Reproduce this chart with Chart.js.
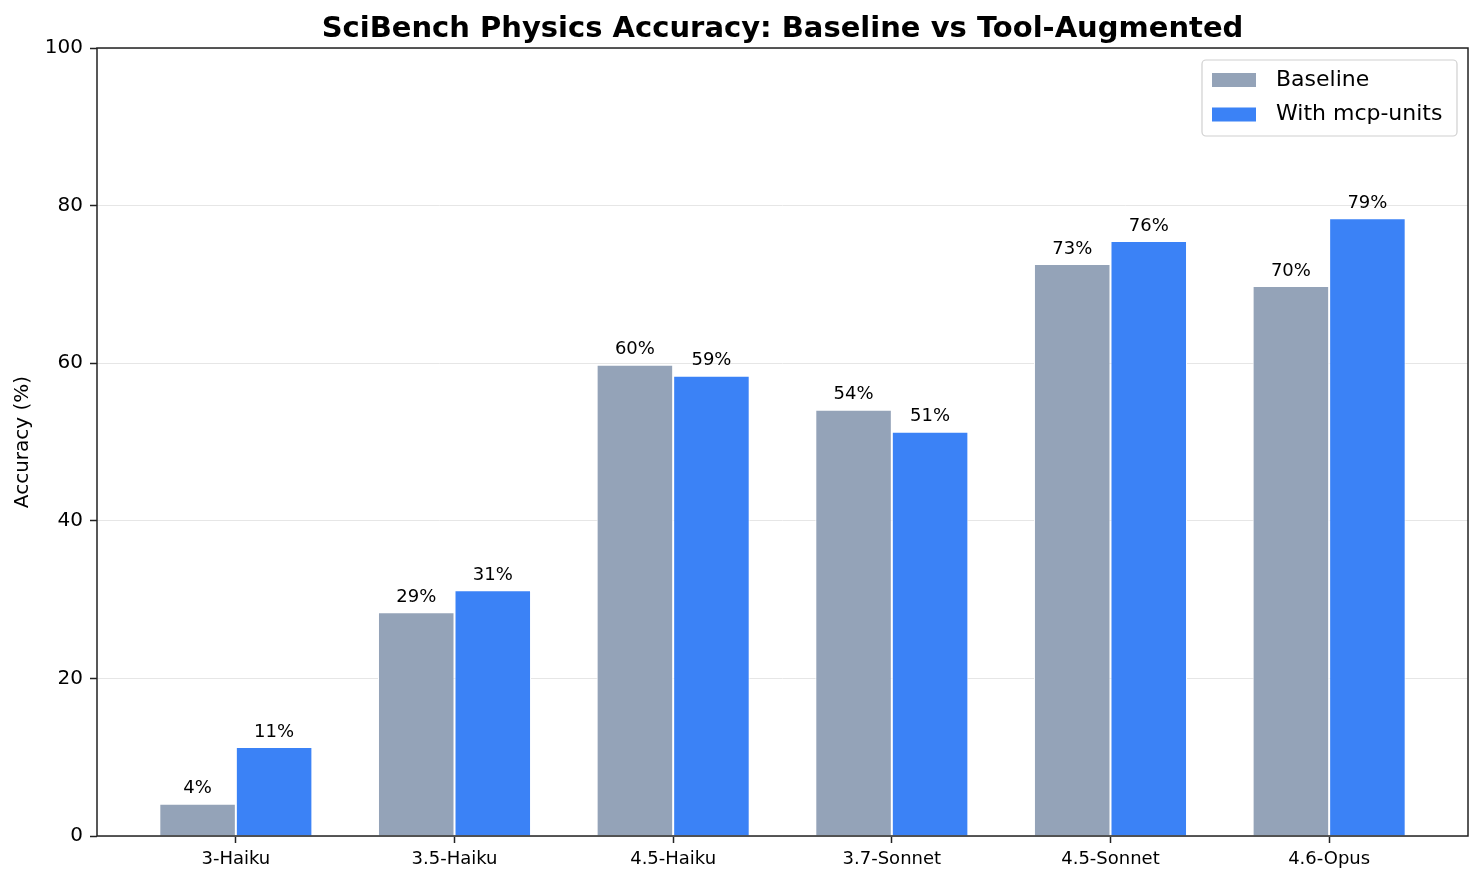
<!DOCTYPE html>
<html>
<head>
<meta charset="utf-8">
<script src="https://cdn.jsdelivr.net/npm/chart.js@4/dist/chart.umd.min.js"></script>
<style>
  html, body { margin: 0; padding: 0; background: #fff; }
  #wrap { width: 1483px; height: 885px; }
</style>
</head>
<body>
<div id="wrap"><canvas id="chart" width="1483" height="885"></canvas></div>
<script>
// values
const models = ['3-Haiku', '3.5-Haiku', '4.5-Haiku', '3.7-Sonnet', '4.5-Sonnet', '4.6-Opus'];
const baseline = [4.1, 28.4, 59.8, 54.1, 72.6, 69.8];
const withTool = [11.3, 31.2, 58.4, 51.3, 75.5, 78.4];
const baselineLabels = ['4%', '29%', '60%', '54%', '73%', '70%'];
const withToolLabels = ['11%', '31%', '59%', '51%', '76%', '79%'];
const yTicks = [0, 20, 40, 60, 80, 100];
const chartTitle = 'SciBench Physics Accuracy: Baseline vs Tool-Augmented';

const FONT = "'DejaVu Sans', sans-serif";
const GRAY = '#94A3B8';
const BLUE = '#3B82F6';

// value labels over every bar
const barLabels = {
    id: 'barLabels',
    afterDatasetsDraw(chart) {
        const ctx = chart.ctx;
        const texts = [baselineLabels, withToolLabels];
        ctx.save();
        ctx.font = '18px ' + FONT;
        ctx.fillStyle = '#000';
        ctx.textAlign = 'center';
        ctx.textBaseline = 'bottom';
        chart.data.datasets.forEach((ds, i) => {
            chart.getDatasetMeta(i).data.forEach((bar, j) => {
                ctx.fillText(texts[i][j], bar.x, bar.y - 6);
            });
        });
        ctx.restore();
    }
};

// title centred over the plot, full box around it, legend in the top right corner
const frameAndLegend = {
    id: 'frameAndLegend',
    afterDraw(chart) {
        const ctx = chart.ctx;
        const a = chart.chartArea;
        ctx.save();

        ctx.font = 'bold 29px ' + FONT;
        ctx.fillStyle = '#000';
        ctx.textAlign = 'center';
        ctx.textBaseline = 'alphabetic';
        ctx.fillText(chartTitle, (a.left + a.right) / 2, 37);

        ctx.strokeStyle = '#222';
        ctx.lineWidth = 1.5;
        ctx.strokeRect(a.left, a.top, a.right - a.left, a.bottom - a.top);

        // legend box
        const w = 255, h = 76;
        const x = a.right - 11 - w, y = a.top + 12;
        ctx.beginPath();
        ctx.roundRect(x, y, w, h, 4);
        ctx.fillStyle = 'rgba(255,255,255,0.8)';
        ctx.fill();
        ctx.strokeStyle = '#d0d0d0';
        ctx.lineWidth = 1.2;
        ctx.stroke();

        ctx.font = '22px ' + FONT;
        ctx.textAlign = 'left';
        ctx.textBaseline = 'middle';
        chart.data.datasets.forEach((ds, i) => {
            const cy = y + 20 + i * 34.5;
            ctx.fillStyle = ds.backgroundColor;
            ctx.fillRect(x + 10, cy - 7, 44, 14);
            ctx.fillStyle = '#000';
            ctx.fillText(ds.label, x + 74, cy);
        });
        ctx.restore();
    }
};

new Chart(document.getElementById('chart'), {
    type: 'bar',
    data: {
        datasets: [
            {
                label: 'Baseline',
                data: baseline.map((v, i) => ({ x: i, y: v })),
                backgroundColor: GRAY,
                borderColor: '#fff',
                borderWidth: 1,
            },
            {
                label: 'With mcp-units',
                data: withTool.map((v, i) => ({ x: i, y: v })),
                backgroundColor: BLUE,
                borderColor: '#fff',
                borderWidth: 1,
            }
        ]
    },
    options: {
        responsive: false,
        animation: false,
        categoryPercentage: 0.7,
        barPercentage: 1.0,
        layout: { padding: { left: 0, right: 15, top: 48, bottom: 0 } },
        scales: {
            x: {
                type: 'linear',
                min: -0.635,
                max: 5.635,
                offset: false,
                afterBuildTicks: (scale) => {
                    scale.ticks = models.map((m, i) => ({ value: i }));
                },
                afterFit: (scale) => { scale.height = 49; },
                ticks: {
                    callback: (v) => models[v],
                    color: '#000',
                    font: { family: FONT, size: 18 },
                    padding: 6,
                    maxRotation: 0,
                    autoSkip: false,
                },
                grid: {
                    offset: false,
                    drawOnChartArea: false,
                    drawTicks: true,
                    tickLength: 7,
                    tickColor: '#222',
                    tickWidth: 1.5,
                },
                border: { display: false },
            },
            y: {
                min: 0,
                max: 100,
                afterBuildTicks: (scale) => {
                    scale.ticks = yTicks.map(v => ({ value: v }));
                },
                afterFit: (scale) => { scale.width = 97; },
                ticks: {
                    color: '#000',
                    font: { family: FONT, size: 20 },
                    padding: 7,
                },
                grid: {
                    color: '#e6e6e6',
                    lineWidth: 1,
                    tickLength: 7,
                    tickColor: '#222',
                    tickWidth: 1.5,
                },
                border: { display: false },
                title: {
                    display: true,
                    text: 'Accuracy (%)',
                    color: '#000',
                    font: { family: FONT, size: 20 },
                    padding: { top: 11, bottom: 0 },
                },
            }
        },
        plugins: {
            legend: { display: false },
            tooltip: { enabled: false },
            title: { display: false }
        }
    },
    plugins: [barLabels, frameAndLegend]
});
</script>
</body>
</html>
